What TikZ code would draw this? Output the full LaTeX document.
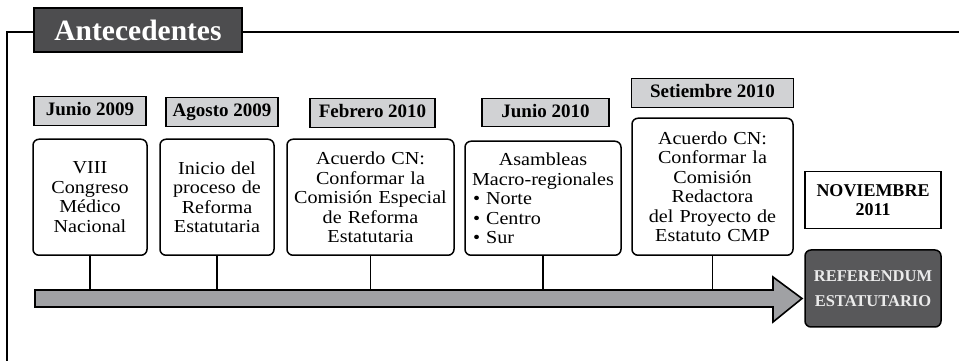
\documentclass[tikz,border=0pt]{standalone}
\usepackage{fontspec}
\setmainfont{Liberation Serif}
\newfontfamily\wideserif[FakeStretch=1.1]{Liberation Serif}
\usetikzlibrary{positioning}
\definecolor{titlefill}{HTML}{4D4D4F}
\definecolor{datefill}{HTML}{D1D2D4}
\definecolor{axisfill}{HTML}{A0A1A4}
\definecolor{reffill}{HTML}{58585A}

\begin{document}
\begin{tikzpicture}[x=1pt, y=1pt, node distance=11pt,
  eventbox/.style={draw, line width=1.5pt, rounded corners=6pt, anchor=south, align=center, inner sep=3pt, font=\wideserif\fontsize{18.3}{19.5}\selectfont},
  datebox/.style={draw, line width=1.5pt, fill=datefill, minimum height=29pt, inner sep=2pt, text height=13pt, text depth=4pt, font=\fontsize{19}{21}\selectfont\bfseries}]
  \useasboundingbox (0,0) rectangle (959,361);

  % frame and title
  \draw[line width=2pt] (7,0) -- (7,329) -- (959,329);
  \node[draw, line width=1.5pt, fill=titlefill, text=white, minimum width=208pt, minimum height=44pt, font=\fontsize{29.5}{31}\selectfont\bfseries] (title) at (138,331) {Antecedentes};

  % events
  \node[eventbox, text width=108pt, minimum height=116pt] (b1) at (90,105) {VIII\\Congreso\\Médico\\Nacional};
  \node[eventbox, text width=108pt, minimum height=116pt] (b2) at (217,105) {Inicio del\\proceso de\\Reforma\\Estatutaria};
  \node[eventbox, text width=161pt, minimum height=116pt] (b3) at (370.5,105) {Acuerdo CN:\\Conformar la\\Comisión Especial\\de Reforma\\Estatutaria};
  \node[eventbox, text width=150pt, minimum height=114pt, align=left] (b4) at (543,105) {\centering Asambleas\\Macro-regionales\par\raggedright\hspace*{5pt}\textbullet\ Norte\\\hspace*{5pt}\textbullet\ Centro\\\hspace*{5pt}\textbullet\ Sur};
  \node[eventbox, text width=155pt, minimum height=137pt] (b5) at (712.5,105) {Acuerdo CN:\\Conformar la\\Comisión\\Redactora\\del Proyecto de\\Estatuto CMP};

  % dates
  \node[datebox, minimum width=112pt, above=12pt of b1] (d1) {Junio 2009};
  \node[datebox, minimum width=112pt, above=11pt of b2, xshift=5pt] (d2) {Agosto 2009};
  \node[datebox, minimum width=125pt, above=10pt of b3, xshift=2pt] (d3) {Febrero 2010};
  \node[datebox, minimum width=127pt, minimum height=28pt, above=13pt of b4, xshift=2.5pt] (d4) {Junio 2010};
  \node[datebox, minimum width=162pt, above=9pt of b5] (d5) {Setiembre 2010};

  % time axis
  \draw[line width=1.6pt, fill=axisfill] (35,54) -- (773,54) -- (773,39) -- (802,62.5) -- (773,84) -- (773,71) -- (35,71) -- cycle;
  \coordinate (axis) at (35,71);
  \foreach \b in {b1,b2,b3,b4,b5}
    \draw[line width=1.6pt] (\b.south) -- (\b.south |- axis);

  % end
  \node[draw, line width=1.5pt, rounded corners=6pt, fill=reffill, text=white!92!black, minimum width=136pt, minimum height=77pt, align=center, font=\fontsize{16.5}{25}\selectfont\bfseries] (ref) at (873,72.5) {REFERENDUM\\ESTATUTARIO};
  \node[draw, line width=1.5pt, minimum width=136pt, minimum height=57pt, align=center, font=\fontsize{18}{19}\selectfont\bfseries, above=20pt of ref] (nov) {NOVIEMBRE\\2011};
\end{tikzpicture}
\end{document}
